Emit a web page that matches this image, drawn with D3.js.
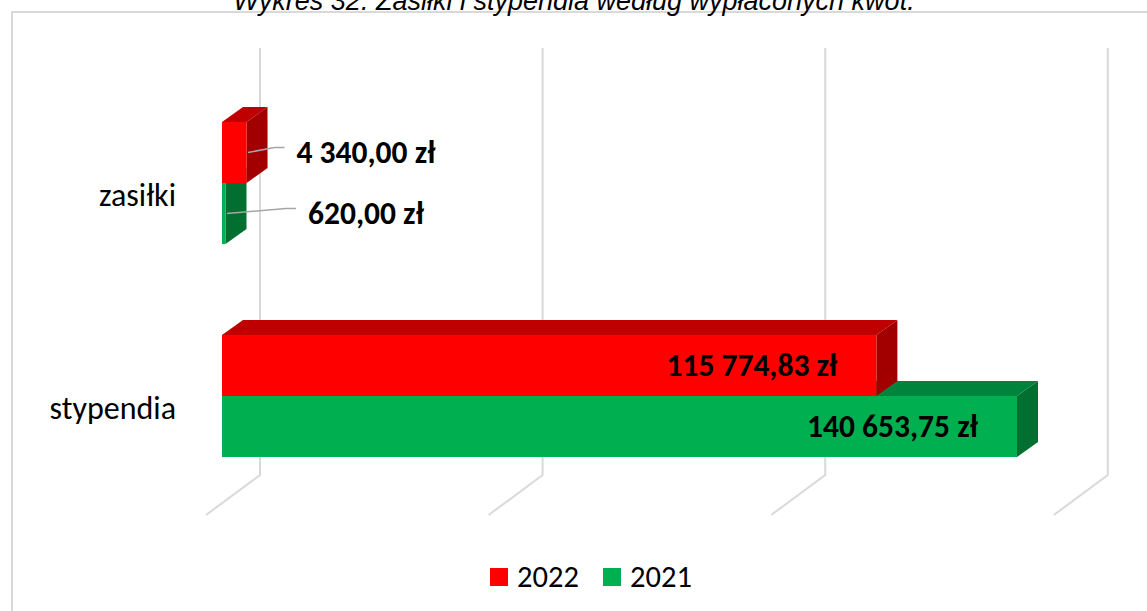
<!DOCTYPE html>
<html>
<head>
<meta charset="utf-8">
<script src="https://cdn.jsdelivr.net/npm/d3@7/dist/d3.min.js"></script>
<style>
  html, body { margin: 0; padding: 0; background: #fff; }
  svg { display: block; }
</style>
</head>
<body>
<svg id="chart" width="1147" height="611"></svg>
<script>
// ---- data ----
const title = "Wykres 32. Zasiłki i stypendia według wypłaconych kwot.";
const categories = ["zasiłki", "stypendia"];
const seriesNames = ["2022", "2021"];
const values2022 = [4340.00, 115774.83];
const values2021 = [620.00, 140653.75];
const labels2022 = ["4 340,00 zł", "115 774,83 zł"];
const labels2021 = ["620,00 zł", "140 653,75 zł"];
const xTicks = [0, 50000, 100000, 150000];

// ---- styles ----
const colors = {
  "2022": { front: "#FF0000", top: "#C00000", side: "#A20000" },
  "2021": { front: "#00B050", top: "#00843C", side: "#006F30" }
};
const fontUI = "Carlito, Calibri, Lato, sans-serif";

const svg = d3.select("#chart");
const W = 1147, H = 611;

// border
svg.append("rect").attr("x", 12).attr("y", 12).attr("width", W + 20).attr("height", H + 20)
  .attr("fill", "none").attr("stroke", "#d9d9d9").attr("stroke-width", 2);

// title (cut off at top, as in the original)
svg.append("text").attr("x", 574).attr("y", 10).attr("text-anchor", "middle")
  .attr("font-family", "'Liberation Sans', Arial, sans-serif").attr("font-style", "italic")
  .attr("font-size", 27).attr("fill", "#000").text(title);

// ---- scales ----
const x = d3.scaleLinear().domain([0, 150000]).range([222, 222 + 150000 * 795 / 140653.75]);
const y = d3.scaleBand().domain(categories).range([122, 457]).paddingInner(0.427).paddingOuter(0);
const ys = d3.scaleBand().domain(seriesNames).range([0, y.bandwidth()]);

// 3D geometry
const bdx = 21, bdy = -15;       // bar depth
const wallDx = 38;               // back wall offset from bar front
const floorBackY = 475, floorFrontY = 515, gridTop = 48;
const floorDx = -54;             // back -> front of floor

// gridlines (back wall + floor)
const grid = svg.append("g").attr("stroke", "#d9d9d9").attr("stroke-width", 2).attr("fill", "none");
xTicks.forEach(t => {
  const bx = x(t) + wallDx;
  grid.append("path").attr("d", `M${bx},${gridTop}L${bx},${floorBackY}L${bx + floorDx},${floorFrontY}`);
});

// ---- bars ----
const rows = categories.map((c, i) => ({
  cat: c,
  bars: [
    { s: "2021", v: values2021[i], label: labels2021[i] },
    { s: "2022", v: values2022[i], label: labels2022[i] }
  ]
}));

const barG = svg.append("g");
rows.forEach(r => {
  r.bars.forEach(b => {  // 2021 (lower) first, 2022 on top
    const x0 = x(0), x1 = x(b.v);
    const y0 = y(r.cat) + ys(b.s), y1 = y0 + ys.bandwidth();
    const c = colors[b.s];
    barG.append("path").attr("fill", c.top)
      .attr("d", `M${x0},${y0}L${x0 + bdx},${y0 + bdy}L${x1 + bdx},${y0 + bdy}L${x1},${y0}Z`);
    barG.append("path").attr("fill", c.side)
      .attr("d", `M${x1},${y0}L${x1 + bdx},${y0 + bdy}L${x1 + bdx},${y1 + bdy}L${x1},${y1}Z`);
    barG.append("rect").attr("fill", c.front)
      .attr("x", x0).attr("y", y0).attr("width", x1 - x0).attr("height", y1 - y0);
  });
});

// ---- data labels ----
const leaderG = svg.append("g").attr("fill", "none").attr("stroke", "#a6a6a6").attr("stroke-width", 1.5);
const labG = svg.append("g").attr("font-family", fontUI).attr("font-weight", "bold")
  .attr("font-size", 31.5).attr("fill", "#000");
rows.forEach(r => {
  r.bars.forEach(b => {
    const yc = y(r.cat) + ys(b.s) + ys.bandwidth() / 2;
    const x1 = x(b.v);
    const inside = (x1 - x(0)) > 200;
    if (inside) {
      labG.append("text").attr("x", x1 - 39).attr("y", yc + 10.5).attr("text-anchor", "end").text(b.label);
    } else {
      const cx = x(0) + 144;
      const t = labG.append("text").attr("x", cx).attr("y", yc + 10).attr("text-anchor", "middle").text(b.label);
      const bb = t.node().getBBox();
      const lx = bb.x - 12;
      leaderG.append("path")
        .attr("d", `M${x1 + 1.5},${yc}L${lx - 10},${yc - 5}L${lx},${yc - 5}`);
    }
  });
});

// ---- category labels ----
svg.append("g").attr("font-family", fontUI).attr("font-size", 32).attr("fill", "#000")
  .selectAll("text").data(categories).join("text")
  .attr("x", 176).attr("y", d => y(d) + y.bandwidth() / 2 + 23)
  .attr("text-anchor", "end").text(d => d);

// ---- legend ----
const leg = svg.append("g").attr("font-family", fontUI).attr("font-size", 30.5).attr("fill", "#000");
const legX = [490, 603];
seriesNames.forEach((s, i) => {
  leg.append("rect").attr("x", legX[i]).attr("y", 568).attr("width", 18).attr("height", 18).attr("fill", colors[s].front);
  leg.append("text").attr("x", legX[i] + 27).attr("y", 587).text(s);
});
</script>
</body>
</html>
